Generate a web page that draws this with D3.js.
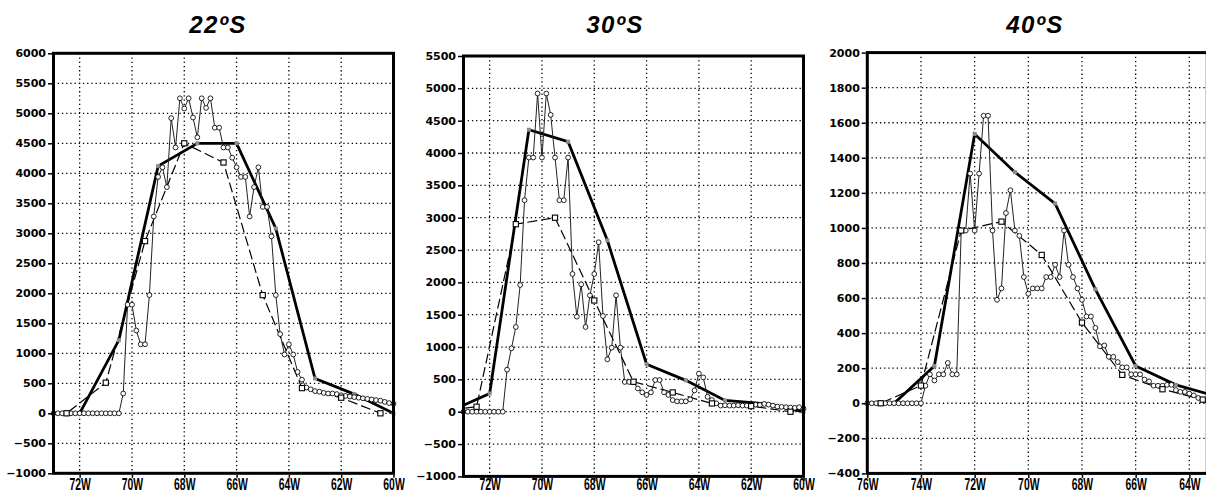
<!DOCTYPE html>
<html><head><meta charset="utf-8">
<script src="https://cdn.jsdelivr.net/npm/d3@7"></script>
<style>body{margin:0;background:#fff}svg{display:block}</style>
</head><body>
<svg id="c" width="1206" height="495"></svg>
<script>
// ---------- DATA ----------
const titles = ["22ºS", "30ºS", "40ºS"];

const xTicks1 = [-72, -70, -68, -66, -64, -62, -60];
const xTicks2 = [-72, -70, -68, -66, -64, -62, -60];
const xTicks3 = [-76, -74, -72, -70, -68, -66, -64];
const yTicks1 = [-1000, -500, 0, 500, 1000, 1500, 2000, 2500, 3000, 3500, 4000, 4500, 5000, 5500, 6000];
const yTicks2 = [-1000, -500, 0, 500, 1000, 1500, 2000, 2500, 3000, 3500, 4000, 4500, 5000, 5500];
const yTicks3 = [-400, -200, 0, 200, 400, 600, 800, 1000, 1200, 1400, 1600, 1800, 2000];

// thick solid line (vertices marked grey)
const lonThick1 = [-73.5, -72, -70.5, -69, -67.5, -66, -64.5, -63, -61.5, -60];
const valThick1 = [0, 0, 1220, 4120, 4500, 4500, 3080, 580, 320, 0];
const lonThick2 = [-73.5, -72, -70.5, -69, -67.5, -66, -64.5, -63, -61.5, -60];
const valThick2 = [10, 283, 4360, 4175, 2650, 735, 485, 175, 125, 0];
const lonThick3 = [-76.5, -75, -73.5, -72, -70.5, -69, -67.5, -66, -64.5, -63];
const valThick3 = [0, 0, 213, 1536, 1318, 1139, 650, 213, 105, 40];

// dashed line with open squares
const lonDash1 = [-74, -72.5, -71, -69.5, -68, -66.5, -65, -63.5, -62, -60.5];
const valDash1 = [0, 0, 510, 2870, 4500, 4180, 1970, 420, 260, 0];
const lonDash2 = [-74, -72.5, -71, -69.5, -68, -66.5, -65, -63.5, -62, -60.5, -59];
const valDash2 = [0, 77, 2900, 3000, 1720, 463, 298, 128, 87, 0, 0];
const lonDash3 = [-77, -75.5, -74, -72.5, -71, -69.5, -68, -66.5, -65, -63.5, -62];
const valDash3 = [0, 0, 101, 985, 1036, 846, 460, 162, 80, 21, 0];

// thin line with open circles, sampled every 1/6 degree from the start longitude
const circStart1 = -73, circStart2 = -73, circStart3 = -76, circStep = 1 / 6;
const circ1 = [0,0,0,0,0,0,0,0,0,0,0,0,0,0,0,0,
  330,1810,1810,1380,1150,1150,1970,3280,3940,4100,3770,4920,4430,5250,5080,5250,4930,4600,
  5250,5090,5250,4760,4760,4430,4430,4260,4100,3940,3940,3280,3770,4100,3440,3440,2950,
  1970,1320,980,1150,980,690,560,430,400,370,360,340,330,330,320,300,290,280,270,260,250,
  240,230,220,210,190,170,160];
const circ2 = [0,0,0,0,0,0,0,0,0,0,
  650,980,1310,1960,3270,3930,3930,4920,3930,4920,4590,3930,3270,3270,3930,2130,1470,1970,
  1310,1800,2130,2620,1480,810,990,1800,990,460,460,460,360,300,260,300,490,490,300,260,
  180,160,160,160,190,330,590,530,230,180,130,95,100,95,95,100,95,95,100,110,105,120,110,
  95,80,75,70,65,60,70,50];
const circ3 = [0,0,0,0,0,0,0,0,0,0,0,0,0,
  100,165,130,165,165,230,165,165,985,985,1310,985,1310,1640,1640,985,590,655,1085,1215,
  985,955,720,625,655,655,655,720,720,790,720,985,790,720,655,590,495,495,430,325,330,
  265,265,235,205,205,165,165,165,135,125,100,100,100,105,105,75,65,65,55,45,30,20,15];

// ---------- LAYOUT ----------
const panels = [
  {left: 53.5, top: 53.3, width: 340, height: 420, xDomain: [-73, -60], yDomain: [-1000, 6000], titleX: 218,
   xTicks: xTicks1, yTicks: yTicks1, lonThick: lonThick1, valThick: valThick1, lonDash: lonDash1, valDash: valDash1,
   circStart: circStart1, circ: circ1, title: titles[0]},
  {left: 463.5, top: 56, width: 340, height: 420.4, xDomain: [-73, -60], yDomain: [-1000, 5500], titleX: 615,
   xTicks: xTicks2, yTicks: yTicks2, lonThick: lonThick2, valThick: valThick2, lonDash: lonDash2, valDash: valDash2,
   circStart: circStart2, circ: circ2, title: titles[1]},
  {left: 867.3, top: 52.6, width: 340, height: 420.8, xDomain: [-76, -63.33], yDomain: [-400, 2000], titleX: 1035,
   xTicks: xTicks3, yTicks: yTicks3, lonThick: lonThick3, valThick: valThick3, lonDash: lonDash3, valDash: valDash3,
   circStart: circStart3, circ: circ3, title: titles[2]}
];

const svg = d3.select("#c");
const xLabelBaseline = 489.5;

panels.forEach((p, i) => {
  const g = svg.append("g");
  const x = d3.scaleLinear().domain(p.xDomain).range([p.left, p.left + p.width]);
  const y = d3.scaleLinear().domain(p.yDomain).range([p.top + p.height, p.top]);
  const inX = v => v >= p.xDomain[0] - 1e-6 && v <= p.xDomain[1] + 1e-6;

  const clipId = "clip" + i;
  svg.append("clipPath").attr("id", clipId).append("rect")
    .attr("x", p.left).attr("y", p.top).attr("width", p.width).attr("height", p.height);

  // grid
  const grid = g.append("g").attr("stroke", "#000").attr("stroke-width", 1.3).attr("stroke-dasharray", "1.3,2.9");
  p.xTicks.filter(t => x(t) > p.left + 1 && x(t) < p.left + p.width - 1).forEach(t => {
    grid.append("line").attr("x1", x(t)).attr("x2", x(t)).attr("y1", p.top).attr("y2", p.top + p.height);
  });
  p.yTicks.filter(t => y(t) > p.top + 1 && y(t) < p.top + p.height - 1).forEach(t => {
    grid.append("line").attr("y1", y(t)).attr("y2", y(t)).attr("x1", p.left).attr("x2", p.left + p.width);
  });

  const thick = p.lonThick.map((l, j) => ({lon: l, v: p.valThick[j]}));
  const dash = p.lonDash.map((l, j) => ({lon: l, v: p.valDash[j]}));
  const circ = p.circ.map((v, k) => ({lon: p.circStart + k * circStep, v: v}));
  const line = d3.line().x(d => x(d.lon)).y(d => y(d.v));

  const lines = g.append("g").attr("clip-path", `url(#${clipId})`);
  // thick line
  lines.append("path").attr("d", line(thick)).attr("fill", "none").attr("stroke", "#000")
    .attr("stroke-width", 2.8).attr("stroke-linejoin", "miter");
  // grey vertex markers
  g.selectAll(null).data(thick.filter(d => inX(d.lon))).enter().append("rect")
    .attr("x", d => x(d.lon) - 2).attr("y", d => y(d.v) - 2).attr("width", 4).attr("height", 4)
    .attr("fill", "#8c8c8c");
  // thin line
  lines.append("path").attr("d", line(circ)).attr("fill", "none").attr("stroke", "#222").attr("stroke-width", 1);
  // dashed
  lines.append("path").attr("d", line(dash)).attr("fill", "none").attr("stroke", "#000")
    .attr("stroke-width", 1.2).attr("stroke-dasharray", "10,4");
  // circles
  g.selectAll(null).data(circ).enter().append("circle")
    .attr("cx", d => x(d.lon)).attr("cy", d => y(d.v)).attr("r", 2.4)
    .attr("fill", "#fff").attr("stroke", "#000").attr("stroke-width", 0.85);
  // squares
  g.selectAll(null).data(dash.filter(d => inX(d.lon))).enter().append("rect")
    .attr("x", d => x(d.lon) - 2.6).attr("y", d => y(d.v) - 2.6).attr("width", 5.2).attr("height", 5.2)
    .attr("fill", "#fff").attr("stroke", "#000").attr("stroke-width", 1.1);

  // frame
  g.append("rect").attr("x", p.left).attr("y", p.top).attr("width", p.width).attr("height", p.height)
    .attr("fill", "none").attr("stroke", "#000").attr("stroke-width", 3);

  // y axis
  const ya = g.append("g").attr("transform", `translate(${p.left - 1.5},0)`)
    .call(d3.axisLeft(y).tickValues(p.yTicks).tickSize(4).tickPadding(2)
      .tickFormat(v => String(v).replace("-", "\u2212")));
  ya.select(".domain").remove();
  ya.selectAll("line").attr("stroke", "#000").attr("stroke-width", 1.5);
  ya.selectAll("text").attr("fill", "#000").style("font-family", "'DejaVu Sans', sans-serif")
    .style("font-weight", "bold").style("font-size", "11px");

  // x axis
  const bottom = p.top + p.height + 1.5;
  const xa = g.append("g").attr("transform", `translate(0,${bottom})`)
    .call(d3.axisBottom(x).tickValues(p.xTicks).tickSize(3)
      .tickFormat(v => Math.abs(v) + "W"));
  xa.select(".domain").remove();
  xa.selectAll("line").attr("stroke", "#000").attr("stroke-width", 1.5);
  xa.selectAll("text").attr("fill", "#000").attr("y", 0).attr("dy", null)
    .attr("transform", `translate(0,${xLabelBaseline - bottom}) scale(0.65,1.05)`)
    .style("font-family", "'Liberation Sans', Arial, sans-serif")
    .style("font-weight", "bold").style("font-size", "16px");

  // title
  g.append("text").attr("x", p.titleX).attr("y", 33).attr("text-anchor", "middle")
    .style("font-family", "'Liberation Sans', Arial, sans-serif").style("font-weight", "bold")
    .style("font-style", "italic").style("font-size", "24px").style("letter-spacing", "1.5px")
    .text(p.title);
});
</script>
</body></html>
